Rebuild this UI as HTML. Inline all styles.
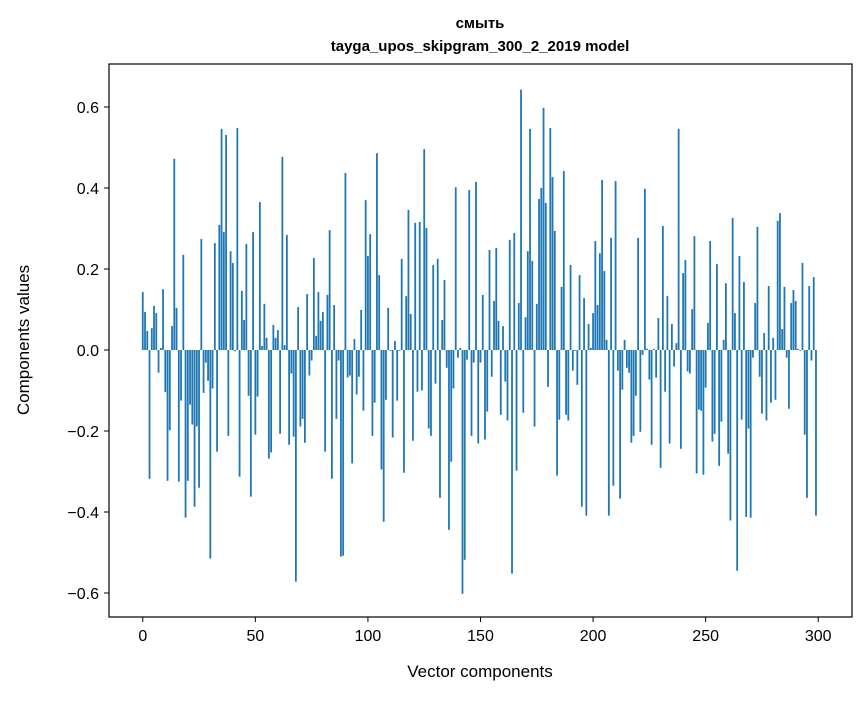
<!DOCTYPE html>
<html><head><meta charset="utf-8"><style>
body{margin:0;background:#fff;}
svg text{font-family:"Liberation Sans","DejaVu Sans",sans-serif;fill:#000;}
</style></head><body>
<svg width="867" height="696" viewBox="0 0 867 696">
<rect x="0" y="0" width="867" height="696" fill="#fff"/>
<text x="480" y="28" text-anchor="middle" font-size="15" font-weight="bold">смыть</text>
<text x="480" y="51" text-anchor="middle" font-size="15" font-weight="bold">tayga_upos_skipgram_300_2_2019 model</text>
<g id="bars"></g>
<rect x="109" y="64" width="743" height="553" fill="none" stroke="#000" stroke-width="1.2"/>
<g id="axes"></g>
<text x="480" y="677" text-anchor="middle" font-size="17">Vector components</text>
<text transform="translate(29,340) rotate(-90)" text-anchor="middle" font-size="17">Components values</text>
</svg>
<script>
const values=[0.143,0.094,0.047,-0.318,0.054,0.109,0.091,-0.056,0.005,0.15,
-0.104,-0.323,-0.198,0.059,0.472,0.104,-0.325,-0.125,0.235,-0.414,
-0.323,-0.135,-0.184,-0.387,-0.189,-0.34,0.274,-0.106,-0.031,-0.076,
-0.515,-0.095,0.264,-0.251,0.309,0.546,0.291,0.531,-0.212,0.244,
0.215,-0.003,0.548,-0.313,0.146,0.074,0.262,-0.113,-0.362,0.291,
-0.209,-0.115,0.365,0.01,0.114,0.03,-0.268,-0.253,0.062,0.03,
0.049,-0.207,0.477,0.012,0.284,-0.234,-0.058,-0.214,-0.572,0.106,
-0.189,-0.17,-0.229,0.138,-0.063,-0.026,0.227,0.035,0.143,0.072,
0.094,-0.251,0.136,0.296,-0.318,0.111,-0.17,-0.026,-0.51,-0.508,
0.437,-0.068,-0.063,-0.28,0.027,-0.11,-0.066,0.099,-0.15,0.37,
0.232,0.286,-0.212,-0.13,0.486,0.185,-0.295,-0.424,-0.123,0.104,
-0.002,-0.216,0.022,-0.125,-0.002,0.225,-0.303,0.133,0.346,0.089,
-0.224,0.314,-0.103,0.316,-0.1,0.496,0.301,-0.194,-0.212,0.21,
-0.083,0.225,-0.365,0.074,0.173,-0.044,-0.444,-0.276,-0.095,0.402,
-0.019,0.005,-0.602,-0.518,-0.024,0.395,-0.212,-0.031,0.415,-0.231,
-0.031,0.136,-0.221,-0.152,0.247,-0.066,0.121,0.252,0.072,-0.16,
0.059,-0.078,-0.174,0.272,-0.552,0.289,-0.298,0.116,0.643,-0.155,
0.081,0.244,0.546,0.22,-0.189,0.114,0.373,0.4,0.598,0.363,
-0.091,0.548,0.427,0.294,-0.31,-0.172,0.156,0.442,-0.16,-0.174,
0.21,-0.051,-0.002,-0.086,0.185,-0.387,0.128,-0.409,0.064,0.005,
0.091,0.269,0.111,0.239,0.42,0.195,0.025,-0.409,0.277,-0.335,
0.417,-0.051,-0.367,-0.098,0.025,-0.044,-0.056,-0.229,-0.212,-0.113,
0.277,-0.202,-0.012,0.398,0.003,-0.073,-0.234,0.003,-0.068,0.079,
-0.291,0.306,-0.103,0.133,-0.231,0.064,-0.041,0.017,0.546,-0.244,
0.19,0.222,-0.053,-0.058,0.101,0.281,-0.305,-0.147,-0.15,-0.308,
-0.093,0.067,0.269,-0.226,-0.207,0.212,-0.286,-0.177,0.025,0.165,
-0.256,-0.421,0.326,0.091,-0.545,0.232,-0.172,0.168,-0.412,-0.194,
-0.414,-0.019,0.116,0.304,-0.066,-0.157,0.042,-0.174,0.158,-0.13,
0.03,-0.123,0.319,0.338,0.052,0.156,-0.019,-0.145,0.116,0.148,
0.121,0.003,-0.002,0.215,-0.209,-0.365,0.158,-0.026,0.18,-0.409];
const xTicks=[0,50,100,150,200,250,300];
const yTicks=[-0.6,-0.4,-0.2,0.0,0.2,0.4,0.6];
const NS='http://www.w3.org/2000/svg';
const X=v=>109+(v+15)*(743/330);
const Y=v=>350-v*405;
const bars=document.getElementById('bars');
values.forEach((v,i)=>{
  const r=document.createElementNS(NS,'rect');
  const w=0.8*743/330;
  r.setAttribute('x',X(i)-w/2);
  r.setAttribute('width',w);
  r.setAttribute('y',Math.min(Y(v),Y(0)));
  r.setAttribute('height',Math.abs(Y(v)-Y(0)));
  r.setAttribute('fill','#1f77b4');
  
  
  bars.appendChild(r);
});
const axes=document.getElementById('axes');
xTicks.forEach(t=>{
  const l=document.createElementNS(NS,'line');
  l.setAttribute('x1',X(t));l.setAttribute('x2',X(t));
  l.setAttribute('y1',617);l.setAttribute('y2',622);
  l.setAttribute('stroke','#000');
  
  
  axes.appendChild(l);
  const tx=document.createElementNS(NS,'text');
  tx.setAttribute('x',X(t));tx.setAttribute('y',641);
  tx.setAttribute('text-anchor','middle');tx.setAttribute('font-size','16');
  tx.textContent=t;
  
  
  axes.appendChild(tx);
});
yTicks.forEach(t=>{
  const l=document.createElementNS(NS,'line');
  l.setAttribute('x1',104);l.setAttribute('x2',109);
  l.setAttribute('y1',Y(t));l.setAttribute('y2',Y(t));
  l.setAttribute('stroke','#000');
  
  
  axes.appendChild(l);
  const tx=document.createElementNS(NS,'text');
  tx.setAttribute('x',99);tx.setAttribute('y',Y(t)+6);
  tx.setAttribute('text-anchor','end');tx.setAttribute('font-size','16');
  tx.textContent=t.toFixed(1).replace('-','\u2212');
  
  
  axes.appendChild(tx);
});
</script>
</body></html>
